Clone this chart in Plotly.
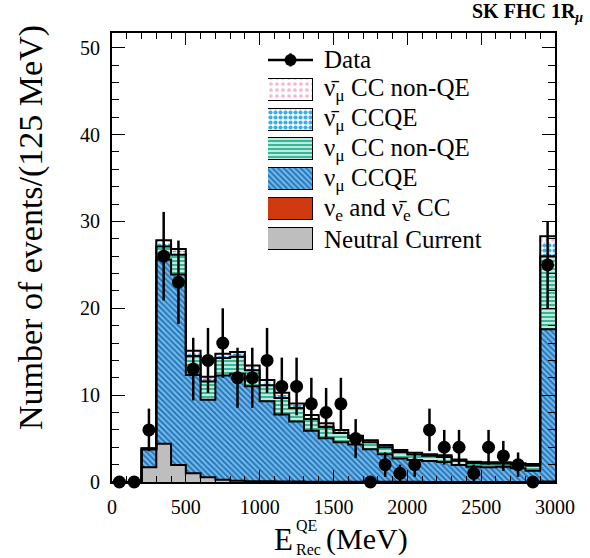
import numpy as np
import plotly.graph_objects as go

# ---------------- data ----------------
bin_edges = list(range(0, 3001, 100))          # MeV, 30 bins of 100 MeV
data_counts = [0, 0, 6, 26, 23, 13, 14, 16, 12, 12, 14, 11, 11, 9, 8, 9, 5, 0,
               2, 1, 2, 6, 4, 4, 1, 4, 3, 2, 0, 25]
data_err = [0, 0, 2.45, 5.1, 4.8, 3.61, 3.74, 4.0, 3.46, 3.46, 3.74, 3.32, 3.32,
            3.0, 2.83, 3.0, 2.24, 0, 1.41, 1.0, 1.41, 2.45, 2.0, 2.0, 1.0, 2.0,
            1.73, 1.41, 0, 5.0]

nc = [0, 0, 1.7, 4.4, 1.95, 1.0, 0.55, 0.25, 0.15, 0.1, 0.08, 0.06, 0.05, 0.04,
      0.03, 0.03, 0.02, 0.02, 0.02, 0.02, 0.02, 0.01, 0.01, 0.01, 0.01, 0.01,
      0.01, 0.01, 0.01, 0.05]
nue_cc = [0, 0, 0.01, 0.03, 0.03, 0.02, 0.02, 0.02, 0.02, 0.02, 0.02, 0.02, 0.02,
          0.02, 0.01, 0.01, 0.01, 0.01, 0.01, 0.01, 0.01, 0.01, 0.01, 0.01, 0.01,
          0.01, 0.01, 0.01, 0.01, 0.05]
numu_ccqe = [0, 0, 2.04, 21.2, 21.9, 11.3, 8.9, 12.0, 12.3, 10.9, 9.2, 7.7, 6.9,
             5.85, 5.0, 4.55, 4.3, 3.75, 3.17, 2.67, 2.5, 2.4, 2.28, 1.94, 1.75,
             1.68, 1.73, 1.55, 1.28, 17.5]
numu_ccnonqe = [0, 0, 0.1, 1.5, 2.3, 2.2, 2.1, 2.0, 1.95, 1.85, 1.85, 1.9, 1.55,
                1.35, 1.3, 1.05, 0.75, 0.8, 0.8, 0.75, 0.65, 0.6, 0.58, 0.48,
                0.43, 0.42, 0.38, 0.44, 0.58, 8.4]
numubar_ccqe = [0, 0, 0.03, 0.5, 0.45, 0.4, 0.35, 0.35, 0.4, 0.4, 0.45, 0.45,
                0.38, 0.33, 0.32, 0.25, 0.17, 0.17, 0.18, 0.17, 0.14, 0.13, 0.14,
                0.11, 0.1, 0.1, 0.09, 0.1, 0.14, 1.6]
numubar_ccnonqe = [0, 0, 0.02, 0.2, 0.2, 0.2, 0.2, 0.15, 0.15, 0.15, 0.15, 0.15,
                   0.13, 0.12, 0.11, 0.1, 0.08, 0.07, 0.08, 0.07, 0.06, 0.05,
                   0.05, 0.05, 0.04, 0.04, 0.04, 0.04, 0.05, 0.7]

x_ticks = [0, 500, 1000, 1500, 2000, 2500, 3000]
y_ticks = [0, 10, 20, 30, 40, 50]

legend_labels = [
    "Data",
    "ν\u0304<sub>μ</sub> CC non-QE",
    "ν\u0304<sub>μ</sub> CCQE",
    "ν<sub>μ</sub> CC non-QE",
    "ν<sub>μ</sub> CCQE",
    "ν<sub>e</sub> and ν\u0304<sub>e</sub> CC",
    "Neutral Current",
]

# ---------------- styles ----------------
FONT = "Liberation Serif"
W, H = 590, 558
L, R, T, B = 112, 35, 33, 76
PW, PH = W - L - R, H - T - B


def px_x(px):
    return (px - L) / PW


def px_y(py):
    return (H - B - py) / PH


styles = {
    "nc": dict(color="#bebebe", pattern=None),
    "nue": dict(color="#cf3a10", pattern=None),
    "ccqe": dict(color="#72b9e8", pattern=dict(shape="\\", fgcolor="#1f70b8",
                                              bgcolor="#72b9e8", size=4, solidity=0.45)),
    "nonqe": dict(color="#36b896", pattern=dict(shape="-", fgcolor="#ffffff",
                                               bgcolor="#36b896", size=4, solidity=0.35)),
    "barqe": dict(color="#ffffff", pattern=dict(shape=".", fgcolor="#3aaeea",
                                               bgcolor="#ffffff", size=5, solidity=0.55)),
    "barnon": dict(color="#ffffff", pattern=dict(shape=".", fgcolor="#f6b9cc",
                                                bgcolor="#ffffff", size=6, solidity=0.3)),
}


def marker_for(key):
    st = styles[key]
    m = dict(color=st["color"], line=dict(width=0))
    if st["pattern"] is not None:
        m["pattern"] = dict(st["pattern"], fillmode="replace")
    return m


edges = np.array(bin_edges, dtype=float)
centers = 0.5 * (edges[:-1] + edges[1:])
widths = np.diff(edges)

components = [("nc", nc), ("nue", nue_cc), ("ccqe", numu_ccqe),
              ("nonqe", numu_ccnonqe), ("barqe", numubar_ccqe),
              ("barnon", numubar_ccnonqe)]

fig = go.Figure()

for key, vals in components:
    fig.add_trace(go.Bar(x=centers, y=vals, width=widths, marker=marker_for(key),
                         showlegend=False, hoverinfo="skip"))

# step outlines of the cumulative stack
cum = np.zeros(len(centers))
cums = {}
for key, vals in components:
    cum = cum + np.array(vals)
    cums[key] = cum.copy()
for key in ["nc", "ccqe", "nonqe", "barnon"]:
    yy = list(cums[key]) + [cums[key][-1]]
    fig.add_trace(go.Scatter(x=edges, y=yy, mode="lines", line=dict(color="black", width=2, shape="hv"),
                             showlegend=False, hoverinfo="skip"))

# data points
fig.add_trace(go.Scatter(x=centers, y=data_counts, mode="markers",
                         marker=dict(color="black", size=13),
                         error_y=dict(type="data", array=data_err, visible=True,
                                      color="black", thickness=2.5, width=0),
                         cliponaxis=False, showlegend=False))

# ---------------- hand-made legend on an auxiliary axis ----------------
leg_top, leg_step = 45, 29.85
n_leg = len(legend_labels)
leg_bottom = leg_top + leg_step * n_leg
sw_x0, sw_x1 = 268, 313
swatch_keys = ["barnon", "barqe", "nonqe", "ccqe", "nue", "nc"]
for i, key in enumerate(swatch_keys, start=1):
    fig.add_trace(go.Bar(x=[1], y=[i], base=[0], width=[22 / leg_step], orientation="h",
                         marker=dict(marker_for(key), line=dict(color="black", width=1.5)),
                         xaxis="x2", yaxis="y2", showlegend=False, hoverinfo="skip"))
fig.add_trace(go.Scatter(x=[0, 1], y=[0, 0], mode="lines", line=dict(color="black", width=2.5),
                         xaxis="x2", yaxis="y2", showlegend=False, hoverinfo="skip"))
fig.add_trace(go.Scatter(x=[0.5], y=[0], mode="markers", marker=dict(color="black", size=12),
                         error_y=dict(type="data", array=[0.22], color="black", thickness=2.5, width=0),
                         xaxis="x2", yaxis="y2", showlegend=False, hoverinfo="skip", cliponaxis=False))

annotations = []
for i, lab in enumerate(legend_labels):
    annotations.append(dict(text=lab, xref="paper", yref="paper", x=px_x(322),
                            y=px_y(leg_top + leg_step * (i + 0.5)), xanchor="left",
                            yanchor="middle", showarrow=False,
                            font=dict(family=FONT, size=25, color="black")))

# axis titles
annotations += [
    dict(text="Number of events/(125 MeV)", xref="paper", yref="paper", x=px_x(31),
         y=px_y(228), textangle=-90, xanchor="center", yanchor="middle", showarrow=False,
         font=dict(family=FONT, size=34, color="black")),
    dict(text="E", xref="paper", yref="paper", x=px_x(272), y=px_y(539), xanchor="left",
         yanchor="middle", showarrow=False, font=dict(family=FONT, size=31, color="black")),
    dict(text="QE", xref="paper", yref="paper", x=px_x(294), y=px_y(525), xanchor="left",
         yanchor="middle", showarrow=False, font=dict(family=FONT, size=16, color="black")),
    dict(text="Rec", xref="paper", yref="paper", x=px_x(294), y=px_y(549), xanchor="left",
         yanchor="middle", showarrow=False, font=dict(family=FONT, size=16, color="black")),
    dict(text="(MeV)", xref="paper", yref="paper", x=px_x(324), y=px_y(539), xanchor="left",
         yanchor="middle", showarrow=False, font=dict(family=FONT, size=30, color="black")),
    dict(text="<b>SK FHC 1R<sub><i>μ</i></sub></b>", xref="paper", yref="paper", x=px_x(585),
         y=px_y(13), xanchor="right", yanchor="middle", showarrow=False,
         font=dict(family=FONT, size=20, color="black")),
]

axis_common = dict(showline=True, linecolor="black", linewidth=2, mirror="allticks",
                   ticks="inside", tickcolor="black", tickwidth=1, showgrid=False,
                   zeroline=False, tickfont=dict(family=FONT, size=20, color="black"))

fig.update_layout(
    width=W, height=H,
    margin=dict(l=L, r=R, t=T, b=B),
    paper_bgcolor="white", plot_bgcolor="white",
    barmode="stack", bargap=0,
    showlegend=False,
    xaxis=dict(axis_common, range=[0, 3000], tickmode="array", tickvals=x_ticks,
               ticklen=12, ticklabelstandoff=6,
               minor=dict(ticks="inside", dtick=100, ticklen=6, tickcolor="black", tickwidth=1,
                          showgrid=False)),
    yaxis=dict(axis_common, range=[0, 51.7], tickmode="array", tickvals=y_ticks,
               ticklen=13, ticklabelstandoff=6,
               minor=dict(ticks="inside", dtick=2, ticklen=7, tickcolor="black", tickwidth=1,
                          showgrid=False)),
    xaxis2=dict(domain=[px_x(sw_x0), px_x(sw_x1)], range=[0, 1], visible=False,
                anchor="y2", fixedrange=True),
    yaxis2=dict(domain=[px_y(leg_bottom), px_y(leg_top)], range=[n_leg - 0.5, -0.5],
                visible=False, anchor="x2", fixedrange=True),
    annotations=annotations,
)

fig.write_html("out.html")
